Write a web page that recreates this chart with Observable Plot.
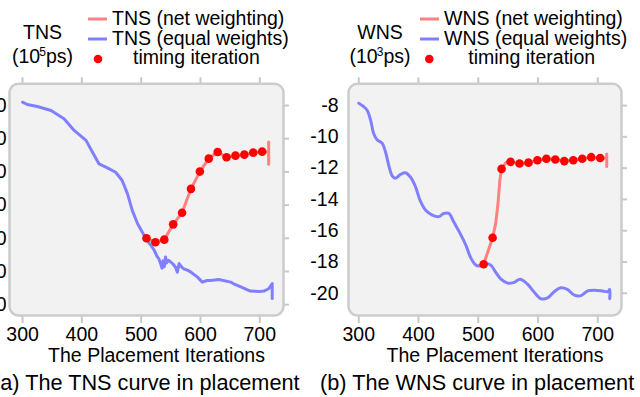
<!DOCTYPE html>
<html><head><meta charset="utf-8">
<script src="https://cdn.jsdelivr.net/npm/d3@7"></script>
<script src="https://cdn.jsdelivr.net/npm/@observablehq/plot@0.6"></script>
<style>
html,body{margin:0;padding:0;background:#fff;overflow:hidden;}
#wrap{position:relative;width:640px;height:397px;overflow:hidden;}
#wrap svg{position:absolute;top:0;}
</style></head><body><div id="wrap"></div>
<script>
const FONT = '"Liberation Sans", Arial, Helvetica, sans-serif';

// ---- data ----
const xTicks = [300, 400, 500, 600, 700];
const tnsTicks = [-10, -20, -30, -40, -50, -60, -70];
const wnsTicks = [-8, -10, -12, -14, -16, -18, -20];

const timingX = [509, 524, 539, 554, 569, 584, 599, 614, 629, 644, 659, 674, 689, 704];
const tnsTiming = [-50.0, -51.2, -50.4, -45.8, -42.3, -35.1, -29.9, -26.0, -24.0, -25.6, -25.1, -24.8, -24.2, -23.9];
const wnsTiming = [-18.14, -16.45, -12.05, -11.6, -11.7, -11.65, -11.5, -11.4, -11.45, -11.55, -11.5, -11.4, -11.3, -11.35];

const tnsEqX = [300,308,325,348,370,387,407,418,429,443,457,468,477,485,494,502,510,516,522,527,530,533,535,537,539,541,543,546,550,554,558,561,564,568,572,578,584,590,595,603,611,617,631,651,656,670,684,700,707,715,721,721];
const tnsEqY = [-9.0,-9.7,-10.3,-11.5,-14.0,-17.5,-20.5,-24.1,-27.6,-28.8,-30.1,-32.6,-36.6,-41.6,-45.6,-48.2,-50.7,-52.0,-53.6,-55.5,-56.2,-57.7,-59.0,-56.8,-58.6,-55.6,-57.4,-56.6,-57.2,-57.8,-58.7,-60.2,-57.6,-58.6,-59.2,-59.6,-60.2,-61.0,-61.7,-63.2,-62.7,-62.7,-62.4,-63.2,-63.7,-64.8,-65.9,-66.0,-65.9,-65.2,-63.6,-68.1];

const tnsNetX = [509,524,539,554,569,584,599,614,629,644,659,674,689,704,715,715,715];
const tnsNetY = [-50.0,-51.2,-50.4,-45.8,-42.3,-35.1,-29.9,-26.0,-24.0,-25.6,-25.1,-24.8,-24.2,-23.9,-24.0,-21.0,-27.7];

const wnsEqX = [300,308,314,320,325,331,339,345,350,356,361,370,378,387,395,403,412,423,434,442,451,459,470,479,487,496,504,512,521,529,538,549,560,570,582,593,605,616,627,638,649,660,672,683,694,708,717,720,720];
const wnsEqY = [-7.85,-8.06,-8.3,-8.96,-9.8,-10.2,-10.4,-11.0,-11.8,-12.5,-12.65,-12.4,-12.3,-12.6,-13.2,-14.1,-14.7,-15.0,-15.1,-14.9,-14.9,-15.45,-16.2,-16.9,-17.7,-18.2,-18.25,-18.1,-18.2,-18.65,-19.1,-19.35,-19.3,-19.1,-19.4,-19.9,-20.35,-20.3,-19.9,-19.65,-19.75,-20.1,-20.15,-19.85,-19.8,-19.85,-19.9,-19.75,-20.35];

const wnsNetX = [509,524,529,533,536,539,546,554,569,584,599,614,629,644,658,673,688,703,715,715,715];
const wnsNetY = [-18.14,-16.45,-15.56,-14.28,-12.8,-12.05,-11.66,-11.6,-11.7,-11.65,-11.5,-11.4,-11.45,-11.55,-11.5,-11.4,-11.3,-11.35,-11.35,-11.1,-11.9];

const panels = [
  {metric: "TNS", unitExp: "5", caption: "(a) The TNS curve in placement"},
  {metric: "WNS", unitExp: "3", caption: "(b) The WNS curve in placement"}
];
const legendLabels = ["(net weighting)", "(equal weights)", "timing iteration"];
const xLabel = "The Placement Iterations";

const RED = "#ff8080", BLUE = "#8080ff", DOT = "#ff0000", GRID = "#c8c8c8";

function panel(o) {
  const svg = Plot.plot({
    width: o.width, height: 397,
    marginLeft: o.ml, marginRight: o.mr, marginTop: 83.3, marginBottom: 82,
    style: {fontFamily: FONT, fontSize: "19.5px", color: "#000", background: "transparent", overflow: "visible"},
    x: {domain: o.xDomain},
    y: {domain: o.yDomain},
    marks: [
      Plot.frame({fill: "#f2f2f2", rx: 9, ry: 9}),
      Plot.axisX({anchor: "top", ticks: xTicks, tickSize: 7, tickFormat: () => "", stroke: GRID, strokeWidth: 2, label: null}),
      Plot.axisX({anchor: "bottom", ticks: xTicks, tickSize: 8, tickPadding: 4, tickFormat: d => String(d), stroke: GRID, strokeWidth: 2, fill: "#000", label: null}),
      Plot.axisY({anchor: "right", ticks: o.yTicks, tickSize: 5, tickFormat: () => "", stroke: GRID, strokeWidth: 2, label: null}),
      Plot.axisY({anchor: "left", ticks: o.yTicks, tickSize: 0, tickPadding: o.pad, tickFormat: d => String(d), fill: "#000", label: null}),
      Plot.line(o.eqY, {x: o.eqX, y: o.eqY, stroke: BLUE, strokeWidth: 3, curve: o.eqCurve}),
      Plot.line(o.netY, {x: o.netX, y: o.netY, stroke: RED, strokeWidth: 3}),
      Plot.dot(o.timY, {x: timingX, y: o.timY, r: 4.3, fill: DOT, stroke: "none"}),
      Plot.frame({stroke: "#cccccc", strokeWidth: 2.5, rx: 9, ry: 9})
    ]
  });
  svg.style.left = o.left + "px";
  return svg;
}

const wrap = document.getElementById("wrap");
wrap.appendChild(panel({
  left: -31, width: 334, ml: 40, mr: 20, pad: 3,
  xDomain: [278, 740], yDomain: [-73.25, -3.46], yTicks: tnsTicks,
  eqX: tnsEqX, eqY: tnsEqY, netX: tnsNetX, netY: tnsNetY, timY: tnsTiming, eqCurve: "linear"
}));
wrap.appendChild(panel({
  left: 300, width: 340, ml: 48, mr: 19, pad: 10,
  xDomain: [282.8, 739.7], yDomain: [-21.42, -6.61], yTicks: wnsTicks,
  eqX: wnsEqX, eqY: wnsEqY, netX: wnsNetX, netY: wnsNetY, timY: wnsTiming, eqCurve: "catmull-rom"
}));

// ---- overlay texts / legends ----
const ov = d3.select(wrap).append("svg")
  .attr("width", 640).attr("height", 397)
  .style("left", "0px").style("pointer-events", "none")
  .attr("font-family", FONT).attr("font-size", 19.5).attr("fill", "#000");

const layout = [
  {titleX: 42.5, swX: 88, txtX: 112, dotX: 98, timX: 133, axX: 156.5, capX: -7},
  {titleX: 380, swX: 420, txtX: 444, dotX: 429.3, timX: 468.3, axX: 495, capX: 320}
];
panels.forEach((p, i) => {
  const L = layout[i];
  ov.append("text").attr("x", L.titleX).attr("y", 39).attr("text-anchor", "middle").text(p.metric);
  const u = ov.append("text").attr("x", L.titleX).attr("y", 63).attr("text-anchor", "middle");
  u.append("tspan").text("(10");
  u.append("tspan").attr("font-size", 12).attr("dy", -7).attr("dx", -1).text(p.unitExp);
  u.append("tspan").attr("dy", 7).text("ps)");
  ov.append("line").attr("x1", L.swX).attr("x2", L.swX + 19).attr("y1", 19).attr("y2", 19).attr("stroke", RED).attr("stroke-width", 3);
  ov.append("text").attr("x", L.txtX).attr("y", 25).text(p.metric + " " + legendLabels[0]);
  ov.append("line").attr("x1", L.swX).attr("x2", L.swX + 19).attr("y1", 39).attr("y2", 39).attr("stroke", BLUE).attr("stroke-width", 3);
  ov.append("text").attr("x", L.txtX).attr("y", 45).text(p.metric + " " + legendLabels[1]);
  ov.append("circle").attr("cx", L.dotX).attr("cy", 59).attr("r", 4.3).attr("fill", DOT);
  ov.append("text").attr("x", L.timX).attr("y", 64).text(legendLabels[2]);
  ov.append("text").attr("x", L.axX).attr("y", 361.7).attr("text-anchor", "middle").text(xLabel);
  ov.append("text").attr("x", L.capX).attr("y", 390).attr("font-size", 21.7).text(p.caption);
});
</script>
</body></html>
